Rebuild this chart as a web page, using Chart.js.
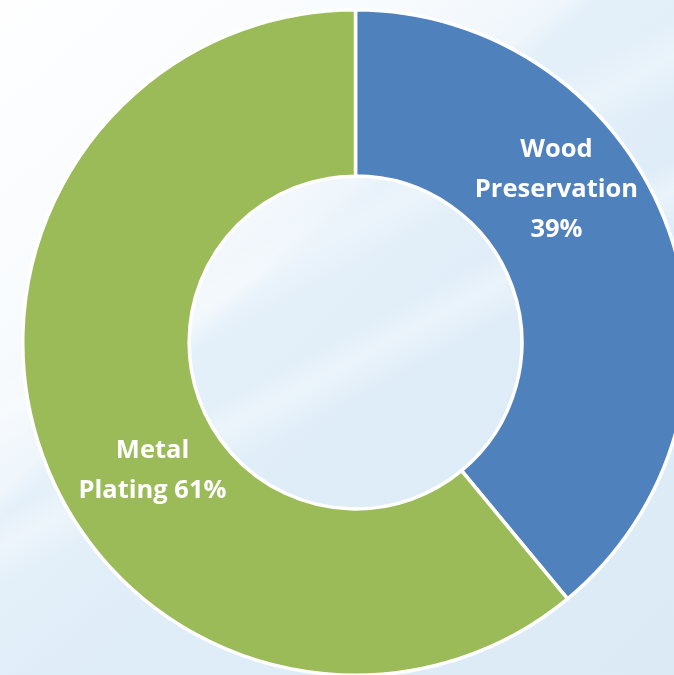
<!DOCTYPE html>
<html>
<head>
<meta charset="utf-8">
<script src="https://cdn.jsdelivr.net/npm/chart.js@4.4.1/dist/chart.umd.min.js"></script>
<style>
  html, body { margin: 0; padding: 0; width: 674px; height: 675px; overflow: hidden; }
  body {
    position: relative;
    background:
      linear-gradient(152deg, rgba(255,255,255,0) 50%, rgba(255,255,255,0.35) 53%, rgba(255,255,255,0) 57%),
      linear-gradient(152deg, rgba(255,255,255,0) 36%, rgba(255,255,255,0.3) 40%, rgba(255,255,255,0) 44%),
      linear-gradient(139deg, rgba(255,255,255,0.97) 0%, rgba(255,255,255,0.75) 28%, rgba(255,255,255,0.45) 39%, rgba(255,255,255,0.12) 41%, rgba(255,255,255,0) 58%),
      linear-gradient(135deg, #e6f1fa 0%, #dfedf8 60%, #dceaf6 100%);
  }
  #wrap { position: absolute; left: 21px; top: 8px; width: 669px; height: 669px; }
</style>
</head>
<body>
<div id="wrap"><canvas id="donut"></canvas></div>
<script>
const categories = ['Wood Preservation', 'Metal Plating'];
const shares = [39, 61];
const labelLines = [['Wood', 'Preservation', '39%'], ['Metal', 'Plating 61%']];
const sliceColors = ['#4f81bd', '#9bbb59'];

// label anchors as fractions of the outer radius, relative to the centre
const labelAnchors = [{ dx: 0.604, dy: -0.46 }, { dx: -0.61, dy: 0.385 }];

const donutLabels = {
  id: 'donutLabels',
  afterDatasetsDraw(chart) {
    const ctx = chart.ctx;
    const meta = chart.getDatasetMeta(0);
    ctx.save();
    ctx.fillStyle = '#ffffff';
    ctx.font = 'bold 25.5px "Open Sans", sans-serif';
    ctx.textAlign = 'center';
    ctx.textBaseline = 'middle';
    meta.data.forEach((arc, i) => {
      const r = arc.outerRadius;
      const cx = arc.x + labelAnchors[i].dx * r;
      const cy = arc.y + labelAnchors[i].dy * r;
      const lines = labelLines[i];
      const lh = 40;
      lines.forEach((t, k) => {
        ctx.fillText(t, cx, cy + (k - (lines.length - 1) / 2) * lh);
      });
    });
    ctx.restore();
  }
};

new Chart(document.getElementById('donut'), {
  type: 'doughnut',
  data: {
    labels: categories,
    datasets: [{
      data: shares,
      backgroundColor: sliceColors,
      borderColor: '#ffffff',
      borderWidth: 3.5
    }]
  },
  options: {
    responsive: true,
    maintainAspectRatio: false,
    animation: false,
    cutout: '50%',
    layout: { padding: 0 },
    plugins: { legend: { display: false }, tooltip: { enabled: false } }
  },
  plugins: [donutLabels]
});
</script>
</body>
</html>
